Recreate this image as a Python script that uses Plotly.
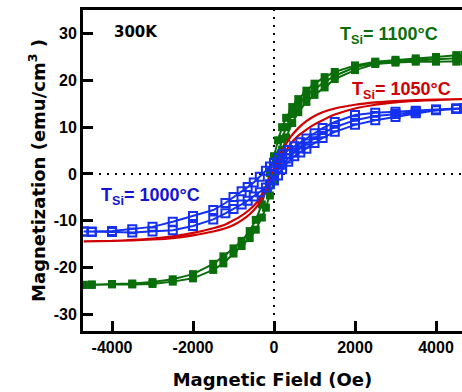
import plotly.graph_objects as go

# ---------------- data (Oe, emu/cm^3) ----------------
# T_Si = 1100 C (green, filled squares): virgin + descending + ascending branches
g_virgin_H = [0, 100, 200, 300, 450, 600, 800, 1000, 1250, 1500, 2000, 2500, 3000, 3500, 4000, 4500, 4700]
g_virgin_M = [0.0, 4.0, 7.5, 10.0, 12.8, 14.8, 16.8, 18.2, 19.6, 21.0, 22.8, 23.8, 24.1, 24.3, 24.5, 24.7, 24.8]
g_desc_H = [4700, 4500, 4000, 3500, 3000, 2500, 2000, 1500, 1250, 1000, 800, 600, 450, 300, 200, 100, 0,
            -100, -200, -300, -450, -600, -800, -1000, -1250, -1500, -2000, -2500, -3000, -3500, -4000, -4500, -4700]
g_desc_M = [25.5, 25.4, 25.0, 24.7, 24.4, 24.0, 23.2, 21.8, 20.7, 19.3, 17.8, 16.0, 14.3, 12.0, 10.0, 7.2, 3.8,
            0.2, -3.5, -6.5, -9.8, -12.2, -14.3, -15.9, -17.6, -19.2, -21.4, -22.5, -23.1, -23.4, -23.5, -23.6, -23.7]
g_asc_H = [-4700, -4500, -4000, -3500, -3000, -2500, -2000, -1500, -1250, -1000, -800, -600, -450, -300, -200, -100, 0,
           100, 200, 300, 450, 600, 800, 1000, 1250, 1500, 2000, 2500, 3000, 3500, 4000, 4500, 4700]
g_asc_M = [-23.7, -23.7, -23.6, -23.6, -23.5, -23.0, -22.3, -20.5, -19.1, -17.0, -15.4, -13.7, -11.9, -9.3, -7.2, -4.6, -1.5,
           2.0, 5.2, 7.8, 10.9, 13.2, 15.4, 16.9, 18.5, 20.3, 22.2, 23.5, 23.8, 24.0, 24.0, 24.0, 24.1]

# T_Si = 1050 C (red, line only): descending + ascending branches
r_desc_H = [4700, 4000, 3500, 3000, 2500, 2000, 1500, 1200, 1000, 800, 600, 400, 200, 100, 0,
            -100, -200, -400, -600, -800, -1000, -1200, -1500, -2000, -2500, -3000, -3500, -4000, -4700]
r_desc_M = [16.0, 15.9, 15.8, 15.6, 15.3, 14.8, 14.0, 13.2, 12.4, 11.3, 9.8, 7.8, 4.9, 3.2, 1.4,
            -0.6, -2.6, -5.8, -7.6, -8.9, -9.9, -10.8, -11.6, -12.6, -13.3, -13.8, -14.1, -14.3, -14.4]
r_asc_H = [-4700, -4000, -3500, -3000, -2500, -2000, -1500, -1200, -1000, -800, -600, -400, -200, -100, 0,
           100, 200, 400, 600, 800, 1000, 1200, 1500, 2000, 2500, 3000, 3500, 4000, 4700]
r_asc_M = [-14.4, -14.3, -14.2, -14.0, -13.7, -13.1, -12.3, -11.6, -10.9, -9.9, -8.6, -6.7, -3.8, -2.1, -0.3,
           1.6, 3.4, 6.3, 8.2, 9.5, 10.6, 11.5, 12.7, 14.0, 14.8, 15.3, 15.6, 15.8, 16.0]

# T_Si = 1000 C (blue, open squares): virgin + descending + ascending branches
b_virgin_H = [0, 100, 200, 350, 500, 650, 800, 1000, 1200, 1500, 2000, 2500, 3000, 3500, 4000, 4500, 4700]
b_virgin_M = [0.0, 1.0, 2.0, 3.3, 4.6, 5.6, 6.5, 7.6, 8.7, 10.0, 11.5, 12.4, 12.8, 13.3, 13.7, 14.0, 14.1]
b_desc_H = [4700, 4500, 4000, 3500, 3000, 2500, 2000, 1500, 1200, 1000, 800, 650, 500, 350, 200, 100, 0,
            -100, -200, -350, -500, -650, -800, -1000, -1200, -1500, -2000, -2500, -3000, -3500, -4000, -4500, -4700]
b_desc_M = [14.1, 14.0, 13.8, 13.5, 13.3, 13.1, 12.6, 11.1, 9.8, 8.7, 7.6, 6.8, 5.9, 5.1, 4.2, 3.4, 2.4,
            1.6, 0.7, -0.6, -1.8, -2.8, -3.7, -4.9, -6.2, -7.7, -9.0, -10.2, -11.3, -11.8, -12.2, -12.3, -12.3]
b_asc_H = [-4700, -4500, -4000, -3500, -3000, -2500, -2000, -1500, -1200, -1000, -800, -650, -500, -350, -200, -100, 0,
           100, 200, 350, 500, 650, 800, 1000, 1200, 1500, 2000, 2500, 3000, 3500, 4000, 4500, 4700]
b_asc_M = [-12.3, -12.4, -12.4, -12.5, -12.3, -12.0, -11.1, -9.7, -8.4, -7.5, -6.5, -5.7, -4.8, -3.9, -2.9, -2.2, -1.4,
           -0.3, 1.0, 2.6, 3.8, 4.6, 5.4, 6.6, 7.7, 9.0, 10.5, 11.5, 12.2, 13.0, 13.6, 13.9, 14.0]

x_ticks = [-4000, -2000, 0, 2000, 4000]
y_ticks = [-30, -20, -10, 0, 10, 20, 30]

GREEN = "#0a6e0a"
RED = "#d00000"
BLUE = "#1430f0"

fig = go.Figure()

fig.add_trace(go.Scatter(
    x=g_virgin_H + g_desc_H + g_asc_H, y=g_virgin_M + g_desc_M + g_asc_M,
    mode="lines+markers", line=dict(color=GREEN, width=2),
    marker=dict(symbol="square", size=8, color=GREEN), showlegend=False))

fig.add_trace(go.Scatter(
    x=r_desc_H + r_asc_H, y=r_desc_M + r_asc_M,
    mode="lines", line=dict(color=RED, width=2.2, shape="spline", smoothing=0.6), showlegend=False))

fig.add_trace(go.Scatter(
    x=b_virgin_H + b_desc_H + b_asc_H, y=b_virgin_M + b_desc_M + b_asc_M,
    mode="lines+markers", line=dict(color=BLUE, width=2),
    marker=dict(symbol="square-open", size=8, color=BLUE, line=dict(width=2, color=BLUE)),
    showlegend=False))

# dotted zero lines
fig.add_shape(type="line", xref="x", yref="paper", x0=0, x1=0, y0=0, y1=1,
              line=dict(color="black", width=2, dash="2px,6px"), layer="below")
fig.add_shape(type="line", xref="paper", yref="y", x0=0, x1=1, y0=0, y1=0,
              line=dict(color="black", width=2, dash="2px,6px"), layer="below")

tick_font = dict(family="Liberation Sans, Arial, sans-serif", size=16, color="black", weight="bold")
title_font = dict(family="DejaVu Sans, sans-serif", size=18, color="black", weight="bold")

fig.update_xaxes(
    range=[-4716, 4642], tickvals=x_ticks, ticktext=[str(v) for v in x_ticks],
    ticks="inside", ticklen=10, tickwidth=3, tickcolor="black",
    showline=True, linewidth=3, linecolor="black", mirror=True,
    showgrid=False, zeroline=False, tickfont=tick_font,
    title=dict(text="Magnetic Field (Oe)", font=title_font, standoff=19))
fig.update_yaxes(
    range=[-33.55, 35.04], tickvals=y_ticks, ticktext=[str(v) for v in y_ticks],
    ticks="inside", ticklen=10, tickwidth=3, tickcolor="black",
    showline=True, linewidth=3, linecolor="black", mirror=False,
    showgrid=False, zeroline=False, tickfont=tick_font,
    title=dict(text="Magnetization (emu/cm<sup>3</sup> )", font=title_font, standoff=4))

ann_font = dict(family="Liberation Sans, Arial, sans-serif", size=18, weight="bold")
fig.add_annotation(x=-3990, y=30.4, xref="x", yref="y", text="300K", showarrow=False,
                   xanchor="left", yanchor="middle",
                   font=dict(family="DejaVu Sans, sans-serif", size=15, color="black", weight="bold"))
fig.add_annotation(x=1573, y=29.6, xref="x", yref="y", text="T<sub>Si</sub>= 1100°C", showarrow=False,
                   xanchor="left", yanchor="middle", font=dict(ann_font, color=GREEN))
fig.add_annotation(x=1877, y=17.9, xref="x", yref="y", text="T<sub>Si</sub>= 1050°C", showarrow=False,
                   xanchor="left", yanchor="middle", font=dict(ann_font, color=RED))
fig.add_annotation(x=-4321, y=-4.9, xref="x", yref="y", text="T<sub>Si</sub>= 1000°C", showarrow=False,
                   xanchor="left", yanchor="middle", font=dict(ann_font, color="#1414d2"))

fig.update_layout(
    width=462, height=392,
    margin=dict(l=83, r=0, t=10, b=61),
    paper_bgcolor="white", plot_bgcolor="white",
    showlegend=False)

# remove the page's default 8px body margin so the figure fills the window exactly
fig.write_html("out.html", config={"displayModeBar": False},
               post_script="document.body.style.margin='0';document.body.style.overflow='hidden';")
